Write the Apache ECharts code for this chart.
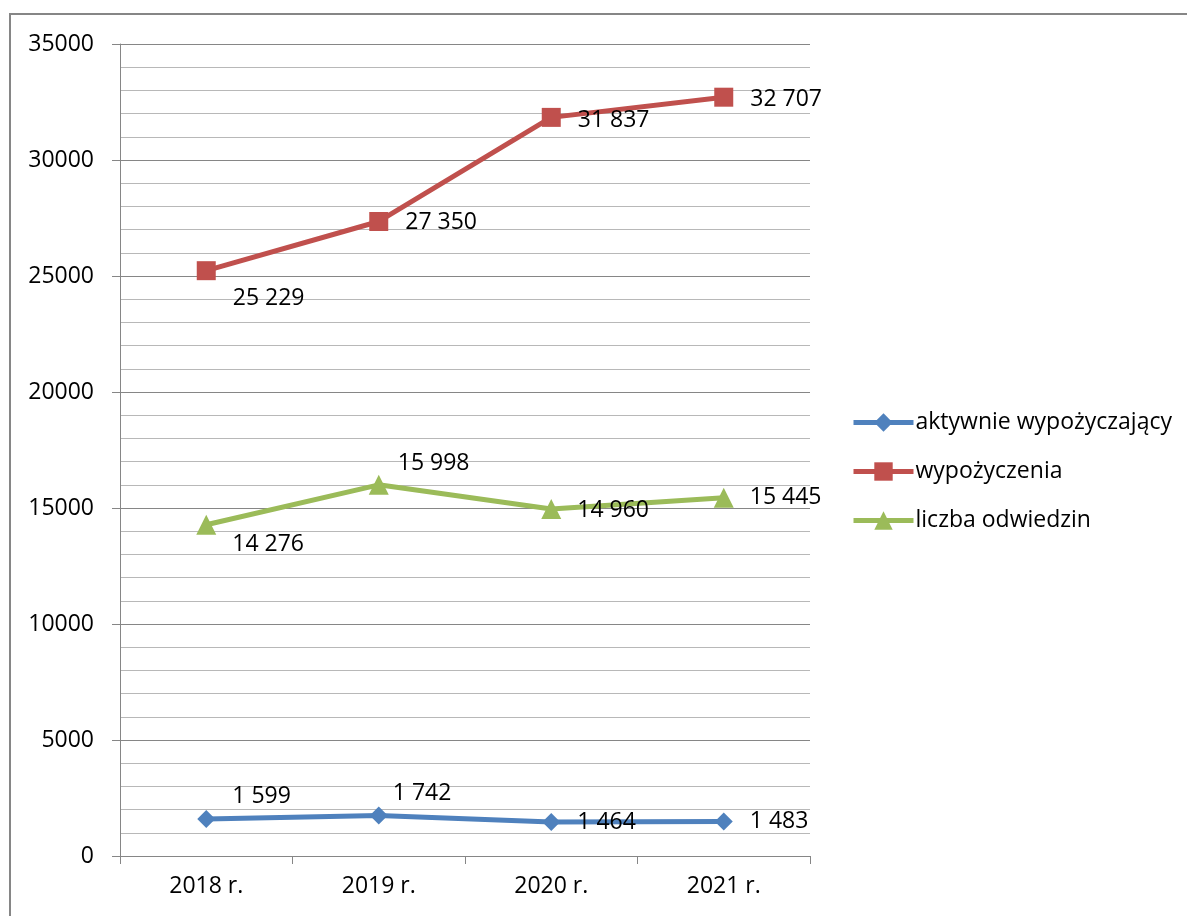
<!DOCTYPE html>
<html>
<head>
<meta charset="utf-8">
<script src="https://cdn.jsdelivr.net/npm/echarts@6/dist/echarts.min.js"></script>
<style>
  html, body { margin: 0; padding: 0; background: #fff; }
  #main { width: 1187px; height: 916px; }
</style>
</head>
<body>
<div id="main"></div>
<script>
  // dane z wykresu
  var years = ['2018 r.', '2019 r.', '2020 r.', '2021 r.']
  var aktywnie = [1599, 1742, 1464, 1483]
  var wypozyczenia = [25229, 27350, 31837, 32707]
  var odwiedziny = [14276, 15998, 14960, 15445]
  var seriesNames = ['aktywnie wypożyczający', 'wypożyczenia', 'liczba odwiedzin']

  var FONT = 'Open Sans'
  var FS = 23

  // przesunięcia etykiet (styl, nie dane)
  function withLabels (values, offs) {
    return values.map(function (v, i) {
      return { value: v, label: { offset: offs[i] } }
    })
  }
  function fmt (p) {
    return String(p.value).replace(/\B(?=(\d{3})+(?!\d))/g, ' ')
  }

  var chart = echarts.init(document.getElementById('main'))
  var labelBase = {
    show: true,
    position: 'right',
    color: '#000',
    fontFamily: FONT,
    fontSize: FS,
    formatter: fmt
  }

  var option = {
    animation: false,
    backgroundColor: '#fff',
    graphic: [{
      type: 'rect',
      shape: { x: 10, y: 14, width: 1300, height: 1000 },
      style: { fill: 'none', stroke: '#868686', lineWidth: 2 },
      silent: true
    }],
    grid: { left: 120, right: 377, top: 44, bottom: 60 },
    legend: {
      orient: 'vertical',
      left: 846,
      top: 406,
      itemWidth: 60,
      itemHeight: 23,
      itemGap: 26,
      data: seriesNames,
      lineStyle: { width: 5 },
      textStyle: { fontFamily: FONT, fontSize: FS, color: '#000', lineHeight: 23, padding: [0, 0, 0, -3] }
    },
    xAxis: {
      type: 'category',
      data: years,
      boundaryGap: true,
      axisLine: { lineStyle: { color: '#868686', width: 1 } },
      axisTick: { show: true, length: 8, lineStyle: { color: '#868686' } },
      axisLabel: { color: '#000', fontFamily: FONT, fontSize: FS, margin: 19 },
      splitLine: { show: false }
    },
    yAxis: {
      type: 'value',
      min: 0,
      max: 35000,
      interval: 5000,
      axisLine: { show: true, lineStyle: { color: '#868686', width: 1 } },
      axisTick: { show: true, length: 8, lineStyle: { color: '#868686' } },
      axisLabel: { color: '#000', fontFamily: FONT, fontSize: FS, margin: 26, formatter: function (v) { return String(v) } },
      splitLine: { show: true, lineStyle: { color: '#868686', width: 1 } },
      minorTick: { show: false, splitNumber: 5 },
      minorSplitLine: { show: true, lineStyle: { color: '#B8B8B8', width: 1 } }
    },
    series: [
      {
        name: seriesNames[0],
        type: 'line',
        data: withLabels(aktywnie, [[0, -22], [-12, -22], [0, 0], [0, 0]]),
        symbol: 'diamond',
        symbolSize: 18,
        lineStyle: { color: '#4F81BD', width: 5 },
        itemStyle: { color: '#4F81BD' },
        label: Object.assign({ distance: 17 }, labelBase)
      },
      {
        name: seriesNames[1],
        type: 'line',
        data: withLabels(wypozyczenia, [[0, 28], [0, 1], [0, 3], [0, 2]]),
        symbol: 'rect',
        symbolSize: 19,
        lineStyle: { color: '#C0504D', width: 5 },
        itemStyle: { color: '#C0504D' },
        label: Object.assign({ distance: 17 }, labelBase)
      },
      {
        name: seriesNames[2],
        type: 'line',
        data: withLabels(odwiedziny, [[0, 20], [-7, -21], [0, 2], [0, 0]]),
        symbol: 'triangle',
        symbolSize: 20,
        lineStyle: { color: '#9BBB59', width: 5 },
        itemStyle: { color: '#9BBB59' },
        label: Object.assign({ distance: 16 }, labelBase)
      }
    ]
  }
  chart.setOption(option)
</script>
</body>
</html>
